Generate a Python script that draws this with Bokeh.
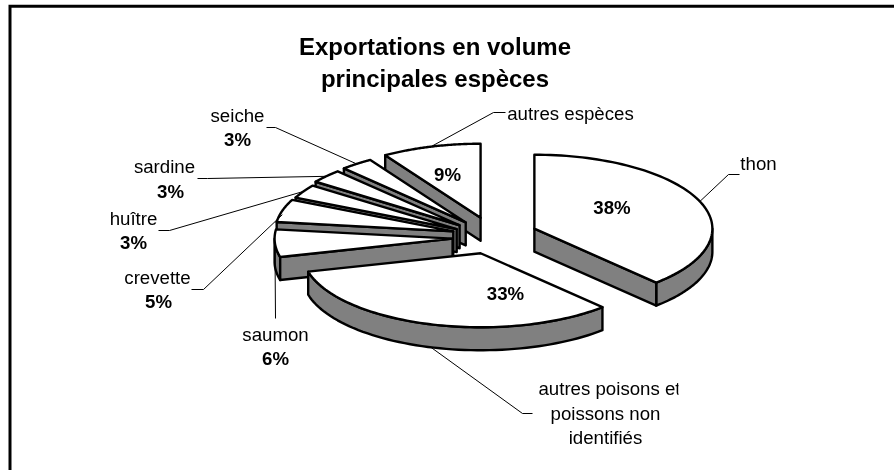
import numpy as np
from bokeh.plotting import figure
from bokeh.models import Range1d
from bokeh.core.properties import value
from bokeh.embed import file_html
from bokeh.resources import INLINE

categories = ["thon", "autres poisons et\npoissons non\nidentifiés", "saumon", "crevette",
              "huître", "sardine", "seiche", "autres espèces"]
shares = [38, 33, 6, 5, 3, 3, 3, 9]
title_lines = ["Exportations en volume", "principales espèces"]

# layout of the drawing (pixels of the page)
CX, CY, RX, RY, DEPTH, EXPLODE = 492.5, 235.0, 178.0, 74.0, 23.0, 0.25
NUDGE = [(0, 0), (0, 0), (4, 2), (3, 1), (2, 3), (0, 2), (0, 1.5), (0, 0)]
W, H = 894, 470
FONT = value("Liberation Sans")
GREY = "#808080"

p = figure(width=W, height=H, output_backend="svg", toolbar_location=None,
           x_range=Range1d(0, W), y_range=Range1d(H, 0), min_border=0,
           background_fill_color="white", border_fill_color="white")
p.styles = {"position": "fixed", "left": "0px", "top": "0px"}
p.axis.visible = False
p.grid.visible = False
p.outline_line_color = None

# frame: only the top and left sides fall inside the picture
p.line([9.5, 9.5, W + 5], [H + 5, 5.8, 5.8], line_color="black", line_width=3, line_join="miter")

t_edges = np.cumsum([0] + shares) * 3.6
slices = []
for i in range(len(shares)):
    t0, t1 = t_edges[i], t_edges[i + 1]
    mid = np.radians((t0 + t1) / 2)
    ax = CX + EXPLODE * RX * np.sin(mid) + NUDGE[i][0]
    ay = CY - EXPLODE * RY * np.cos(mid) + NUDGE[i][1]
    slices.append((ax, ay, t0, t1, mid))


def rim(ax, ay, deg):
    r = np.radians(deg)
    return ax + RX * np.sin(r), ay - RY * np.cos(r)


def shape(xs, ys, fill):
    p.patch(list(xs), list(ys), fill_color=fill, line_color="black", line_width=2.4, line_join="round")


for ax, ay, t0, t1, mid in reversed(slices):
    # outer wall
    a0, a1 = max(t0, 90), min(t1, 270)
    if a1 > a0:
        x, y = rim(ax, ay, np.linspace(a0, a1, 60))
        shape(np.r_[x, x[::-1]], np.r_[y, y[::-1] + DEPTH], GREY)
    # cut wall seen from the front
    if 180 < t0 < 360:
        x, y = rim(ax, ay, t0)
        shape([ax, x, x, ax], [ay, y, y + DEPTH, ay + DEPTH], GREY)
    if 0 < t1 < 180:
        x, y = rim(ax, ay, t1)
        shape([ax, x, x, ax], [ay, y, y + DEPTH, ay + DEPTH], GREY)
    # top
    x, y = rim(ax, ay, np.linspace(t0, t1, 80))
    shape(np.r_[ax, x], np.r_[ay, y], "white")

# leader lines: (extra depth at the start, elbow, end)
leaders = [
    (0, (728, 174), (739, 174)),
    (23, (522, 413), (532, 413)),
    (0, (275, 318), (275, 318)),
    (4, (203, 289), (191, 289)),
    (0, (169, 230), (158, 230)),
    (0, (207, 178), (197, 178)),
    (0, (275, 127), (266, 127)),
    (0, (493, 112), (505, 112)),
]
for (ax, ay, t0, t1, mid), (dz, elbow, end) in zip(slices, leaders):
    sx, sy = rim(ax, ay, np.degrees(mid))
    p.line([sx, elbow[0], end[0]], [sy + dz, elbow[1], end[1]], line_color="black", line_width=1)


def txt(x, y, s, size, bold=False, align="center", color="black"):
    p.text([x], [y], text=[s], text_font=FONT, text_font_size=f"{size}px",
           text_font_style="bold" if bold else "normal", text_align=align,
           text_baseline="middle", text_color=color)


txt(434.5, 46, title_lines[0], 24, True)
txt(434.5, 78, title_lines[1], 24, True)

LABEL = 18.67
name_pos = [(758, 163), None, (275, 334), (157, 277), (133, 218), (164, 166), (237, 115), (570, 113)]
pct_pos = [(611.5, 207), (505, 293), (275, 358), (158, 301), (133, 242), (170, 191), (237, 139), (447, 174)]
for cat, share, np_, pp in zip(categories, shares, name_pos, pct_pos):
    txt(pp[0], pp[1], f"{share}%", LABEL, True)
    if np_ is not None:
        txt(np_[0], np_[1], cat, LABEL)
for line, (x, y) in zip(categories[1].split("\n"), [(609, 388), (605, 413), (605, 437)]):
    txt(x, y, line, LABEL)
# the reference cuts off the last letter of this label
p.quad(left=[678], right=[692], top=[377], bottom=[399], fill_color="white", line_color=None)

open("out.html", "w").write(file_html(p, INLINE))
